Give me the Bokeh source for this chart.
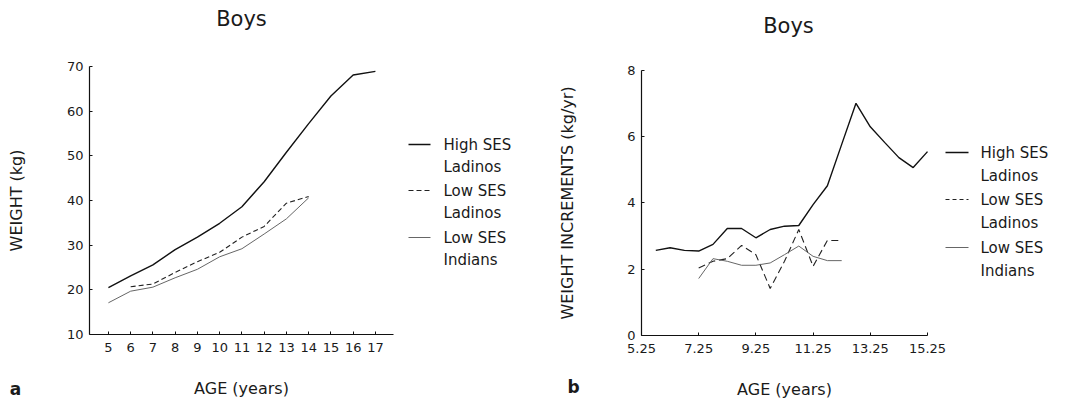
from bokeh.plotting import figure
from bokeh.layouts import row
from bokeh.models import Label, Arrow, FixedTicker, Range1d
from bokeh.embed import file_html
from bokeh.resources import INLINE

FONT = "DejaVu Sans"

# ---- Panel a: weight by age ----
ages_a = [5, 6, 7, 8, 9, 10, 11, 12, 13, 14, 15, 16, 17]
high_ses_ladinos_a = [20.5, 23.1, 25.6, 29.0, 31.8, 34.9, 38.6, 44.2, 50.8, 57.2, 63.4, 68.1, 68.9]
ages_a_low = [6, 7, 8, 9, 10, 11, 12, 13, 14]
low_ses_ladinos_a = [20.7, 21.3, 23.9, 26.3, 28.4, 31.8, 34.2, 39.4, 40.9]
ages_a_ind = [5, 6, 7, 8, 9, 10, 11, 12, 13, 14]
low_ses_indians_a = [17.1, 19.7, 20.6, 22.7, 24.6, 27.4, 29.2, 32.5, 35.9, 40.6]
xticks_a = [5, 6, 7, 8, 9, 10, 11, 12, 13, 14, 15, 16, 17]
yticks_a = [10, 20, 30, 40, 50, 60, 70]

# ---- Panel b: weight increments ----
ages_b_high = [5.75, 6.25, 6.75, 7.25, 7.75, 8.25, 8.75, 9.25, 9.75, 10.25,
               10.75, 11.25, 11.75, 12.25, 12.75, 13.25, 13.75, 14.25, 14.75, 15.25]
high_ses_ladinos_b = [2.57, 2.65, 2.57, 2.55, 2.75, 3.23, 3.23, 2.95, 3.2, 3.3,
                      3.32, 3.95, 4.52, 5.77, 7.01, 6.3, 5.83, 5.37, 5.07, 5.55]
ages_b_low = [7.25, 7.75, 8.25, 8.75, 9.25, 9.75, 10.25, 10.75, 11.25, 11.75, 12.25]
low_ses_ladinos_b = [2.04, 2.24, 2.32, 2.72, 2.44, 1.42, 2.24, 3.2, 2.09, 2.87, 2.87]
low_ses_indians_b = [1.72, 2.32, 2.24, 2.12, 2.12, 2.19, 2.44, 2.7, 2.39, 2.26, 2.26]
xticks_b = [5.25, 7.25, 9.25, 11.25, 13.25, 15.25]
yticks_b = [0, 2, 4, 6, 8]

legend_lines = [("High SES", "Ladinos"), ("Low SES", "Ladinos"), ("Low SES", "Indians")]

C_HIGH = "#111111"
C_LOW = "#222222"
C_IND = "#666666"
TXT = "#1a1a1a"


def style(p, xticks, yticks, xloc, yloc, xbounds, ybounds, xlabel, ylabel, ylab_standoff):
    p.outline_line_color = None
    p.xgrid.visible = False
    p.ygrid.visible = False
    p.background_fill_color = "white"
    p.border_fill_color = "white"
    p.min_border = 0
    xa, ya = p.xaxis[0], p.yaxis[0]
    for ax in (xa, ya):
        ax.axis_line_color = "#111111"
        ax.axis_line_width = 1.2
        ax.major_tick_in = 3
        ax.major_tick_out = 0
        ax.major_tick_line_color = "#111111"
        ax.minor_tick_line_color = None
        ax.major_label_text_font = FONT
        ax.major_label_text_font_size = "13px"
        ax.major_label_text_color = TXT
        ax.axis_label_text_font = FONT
        ax.axis_label_text_font_size = "16px"
        ax.axis_label_text_font_style = "normal"
        ax.axis_label_text_color = TXT
    xa.ticker = FixedTicker(ticks=xticks)
    ya.ticker = FixedTicker(ticks=yticks)
    xa.fixed_location = xloc
    ya.fixed_location = yloc
    xa.bounds = xbounds
    ya.bounds = ybounds
    xa.major_label_standoff = 9
    ya.major_label_standoff = 6
    xa.axis_label = xlabel
    ya.axis_label = ylabel
    xa.axis_label_standoff = 23
    ya.axis_label_standoff = ylab_standoff


def lab(p, x, y, text, size="15px", align="left", baseline="middle", bold=False):
    p.add_layout(Label(x=x, y=y, x_units="screen", y_units="screen", text=text,
                       text_font=FONT, text_font_size=size, text_color=TXT,
                       text_align=align, text_baseline=baseline,
                       text_font_style="bold" if bold else "normal"))


def legend(p, line_x0, line_x1, text_x, rows_y, dash):
    styles = [(C_HIGH, 1.4, "solid"), (C_LOW, 1.1, dash), (C_IND, 1.0, "solid")]
    for i, (l1, l2) in enumerate(legend_lines):
        y1, y2 = rows_y[2 * i], rows_y[2 * i + 1]
        col, w, d = styles[i]
        p.add_layout(Arrow(x_start=line_x0, y_start=y1, x_end=line_x1, y_end=y1,
                           start_units="screen", end_units="screen", end=None,
                           line_color=col, line_width=w, line_dash=d))
        lab(p, text_x, y1, l1)
        lab(p, text_x, y2, l2)


H = 398

# ---------------- Panel a ----------------
p1 = figure(width=538, height=H, output_backend="svg", toolbar_location=None,
            x_range=Range1d(0.15, 24.33), y_range=Range1d(-4.33, 84.78))
style(p1, xticks_a, yticks_a, 10, 4.15, (4.15, 17.8), (10, 70),
      "AGE (years)", "WEIGHT (kg)", 38)
p1.line(ages_a, high_ses_ladinos_a, line_color=C_HIGH, line_width=1.4)
p1.line(ages_a_low, low_ses_ladinos_a, line_color=C_LOW, line_width=1.1, line_dash="5 3")
p1.line(ages_a_ind, low_ses_indians_a, line_color=C_IND, line_width=1.0)

lab(p1, 241, 380, "Boys", size="21px", align="center")
lab(p1, 15, 10, "a", size="17px", align="center", baseline="alphabetic", bold=True)
legend(p1, 408, 430, 443, [254, 232, 208, 186, 161, 139], "5 3")

# ---------------- Panel b ----------------
p2 = figure(width=537, height=H, output_backend="svg", toolbar_location=None,
            x_range=Range1d(1.649, 20.425), y_range=Range1d(-1.902, 10.113))
style(p2, xticks_b, yticks_b, 0, 5.25, (5.25, 15.25), (0, 8),
      "AGE (years)", "WEIGHT INCREMENTS (kg/yr)", 47)
p2.line(ages_b_high, high_ses_ladinos_b, line_color=C_HIGH, line_width=1.4)
p2.line(ages_b_low, low_ses_ladinos_b, line_color=C_LOW, line_width=1.1, line_dash="7 4")
p2.line(ages_b_low, low_ses_indians_b, line_color=C_IND, line_width=1.0)

lab(p2, 250, 373, "Boys", size="21px", align="center")
lab(p2, 35, 12, "b", size="17px", align="center", baseline="alphabetic", bold=True)
legend(p2, 407, 430, 442, [246, 223, 199, 176, 151, 128], "4 3")

layout = row(p1, p2)
open("out.html", "w").write(file_html(layout, INLINE))
